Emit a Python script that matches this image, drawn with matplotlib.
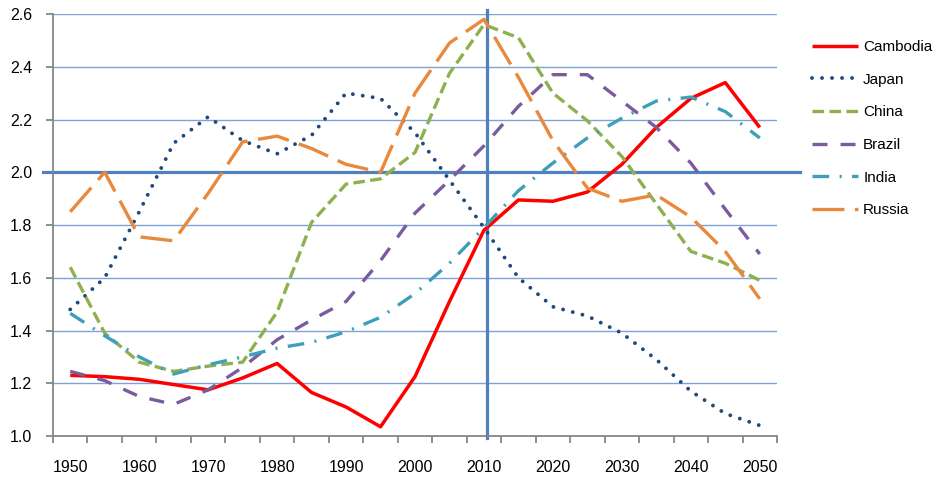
import numpy as np
import matplotlib
matplotlib.use("Agg")
import matplotlib.pyplot as plt

plt.rcParams['font.family'] = ['Liberation Sans', 'DejaVu Sans']
plt.rcParams['lines.scale_dashes'] = False

years = list(range(1950, 2051, 5))

cambodia = [1.23, 1.225, 1.215, 1.195, 1.175, 1.22, 1.275, 1.165, 1.11, 1.035, 1.225,
            1.51, 1.78, 1.895, 1.89, 1.925, 2.03, 2.17, 2.28, 2.34, 2.17]
japan = [1.48, 1.60, 1.85, 2.11, 2.21, 2.12, 2.07, 2.14, 2.30, 2.28, 2.15,
         1.97, 1.79, 1.60, 1.49, 1.455, 1.39, 1.29, 1.17, 1.085, 1.04]
china = [1.64, 1.39, 1.28, 1.245, 1.265, 1.28, 1.47, 1.81, 1.955, 1.975, 2.075,
         2.375, 2.56, 2.51, 2.30, 2.195, 2.06, 1.88, 1.70, 1.655, 1.59]
brazil = [1.245, 1.21, 1.15, 1.12, 1.175, 1.26, 1.365, 1.44, 1.51, 1.665, 1.845,
          1.97, 2.10, 2.25, 2.37, 2.37, 2.27, 2.17, 2.035, 1.86, 1.69]
india = [1.465, 1.38, 1.30, 1.235, 1.27, 1.30, 1.333, 1.355, 1.395, 1.45, 1.54,
         1.655, 1.79, 1.93, 2.035, 2.13, 2.205, 2.27, 2.285, 2.23, 2.13]
russia = [1.85, 2.00, 1.755, 1.74, 1.92, 2.115, 2.137, 2.09, 2.03, 2.00, 2.30,
          2.49, 2.58, 2.36, 2.12, 1.94, 1.89, 1.914, 1.83, 1.70, 1.52]

series = [
    ("Cambodia", cambodia, "#FF0000", None, 2.5, "butt"),
    ("Japan", japan, "#1F497D", (0, (0.01, 7.2)), 2.8, "round"),
    ("China", china, "#8FB04E", (0, (8.4, 3.8)), 2.4, "butt"),
    ("Brazil", brazil, "#7A5C9E", (0, (10.8, 9.4)), 2.4, "butt"),
    ("India", india, "#3F9FBA", (0, (12, 7.5, 1.5, 7.5)), 2.4, "butt"),
    ("Russia", russia, "#E8893D", (0, (23, 7.5)), 2.4, "butt"),
]

fig = plt.figure(figsize=(9.38, 4.79), dpi=100)
ax = fig.add_axes([53/938, 1-436/479, 724/938, 422/479])

ax.set_xlim(1947.5, 2052.5)
ax.set_ylim(1.0, 2.6)

# gridlines
for v in np.arange(1.2, 2.61, 0.2):
    ax.axhline(v, color="#7FA3D6", lw=1.0, zorder=1)

# reference lines at 2.0 and 2010
ax.axhline(2.0, xmin=-10/724, xmax=747/724, color="#4F81BD", lw=2.3,
           clip_on=False, zorder=2)
ax.axvline(2010.4, ymin=-0.005, ymax=1.01, color="#4F81BD", lw=2.3,
           clip_on=False, zorder=2)

for name, vals, col, ls, lw, cap in series:
    line, = ax.plot(years, vals, color=col, lw=lw, label=name, zorder=3,
                    solid_capstyle="butt")
    if ls is not None:
        line.set_linestyle(ls)
        line.set_dash_capstyle(cap)

for s in ["top", "right"]:
    ax.spines[s].set_visible(False)
for s in ["left", "bottom"]:
    ax.spines[s].set_color("#868686")
    ax.spines[s].set_linewidth(1.3)

ax.set_yticks(np.arange(1.0, 2.61, 0.2))
ax.set_yticklabels(["%.1f" % v for v in np.arange(1.0, 2.61, 0.2)])
ax.tick_params(axis="y", length=5, width=1.3, color="#868686", pad=10,
               labelsize=11.5)

ax.set_xticks(np.arange(1947.5, 2053, 5))
ax.set_xticklabels([])
ax.set_xticks(list(range(1950, 2051, 10)), minor=True)
ax.set_xticklabels([str(y) for y in range(1950, 2051, 10)], minor=True)
ax.tick_params(axis="x", which="major", length=5, width=1.3, color="#868686")
ax.tick_params(axis="x", which="minor", length=0, pad=17, labelsize=11.5)

fig.legend(loc="upper left", bbox_to_anchor=(812/938, 1-40/479), frameon=False,
           fontsize=11, handlelength=3.0, handletextpad=0.35, labelspacing=1.22,
           borderpad=0, borderaxespad=0)

fig.savefig("out.png", dpi=100)
